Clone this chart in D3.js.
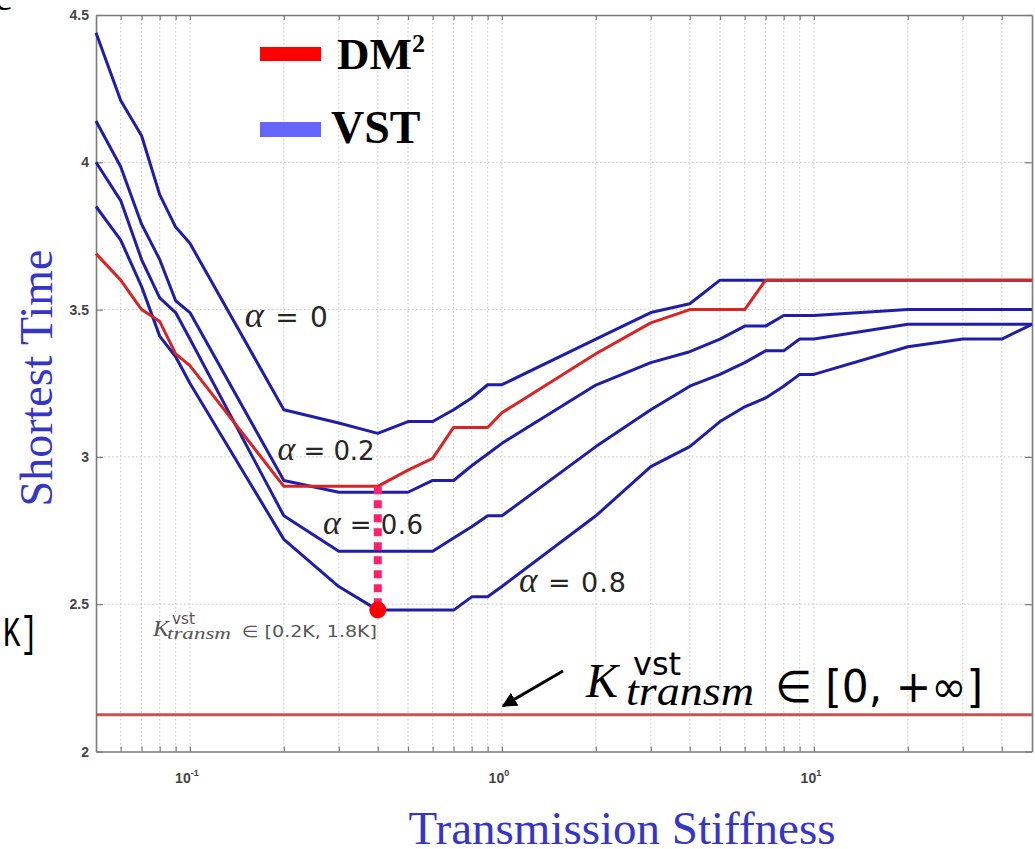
<!DOCTYPE html>
<html>
<head>
<meta charset="utf-8">
<script src="https://cdn.jsdelivr.net/npm/d3@7"></script>
<style>
  html, body { margin: 0; padding: 0; background: #fff; }
  svg { display: block; }
</style>
</head>
<body>
<svg id="chart" width="1035" height="849"></svg>
<script>
// ---------------- data ----------------
const stiffness = [0.05,0.06,0.07,0.08,0.09,0.1,0.2,0.3,0.4,0.5,0.6,0.7,0.8,0.9,1,2,3,4,5,6,7,8,9,10,20,30,40,50];
const vstAlpha0  = [4.44,4.21,4.09,3.89,3.78,3.725,3.16,3.115,3.08,3.12,3.12,3.16,3.20,3.245,3.245,3.40,3.49,3.52,3.60,3.60,3.60,3.60,3.60,3.60,3.60,3.60,3.60,3.60];
const vstAlpha02 = [4.14,3.985,3.79,3.67,3.53,3.49,2.92,2.88,2.88,2.88,2.92,2.92,2.97,3.01,3.046,3.244,3.32,3.357,3.40,3.444,3.444,3.48,3.48,3.48,3.50,3.50,3.50,3.50];
const vstAlpha06 = [4.00,3.87,3.67,3.54,3.49,3.40,2.80,2.68,2.68,2.68,2.68,2.725,2.763,2.80,2.80,3.035,3.16,3.24,3.28,3.32,3.36,3.36,3.40,3.40,3.45,3.45,3.45,3.45];
const vstAlpha08 = [3.85,3.736,3.578,3.41,3.34,3.25,2.72,2.56,2.48,2.48,2.48,2.48,2.525,2.525,2.56,2.80,2.967,3.035,3.12,3.17,3.20,3.24,3.28,3.28,3.374,3.40,3.40,3.45];
const dm2        = [3.69,3.60,3.50,3.46,3.35,3.31,2.90,2.90,2.90,2.955,2.995,3.10,3.10,3.10,3.15,3.35,3.455,3.50,3.50,3.50,3.60,3.60,3.60,3.60,3.60,3.60,3.60,3.60];
const vstAnyK = 2.125;               // horizontal line, K in [0, +inf]
const optimalK = 0.4;                // dotted marker
const optimalTop = 2.90, optimalBottom = 2.48;

const yTicks = [2, 2.5, 3, 3.5, 4, 4.5];
const yTickLabels = ["2", "2.5", "3", "3.5", "4", "4.5"];
const xMajor = [0.1, 1, 10];
const xMajorExp = ["-1", "0", "1"];

const alphaLabels = [
  {name: "0",   k: 0.150, v: 3.44},
  {name: "0.2", k: 0.191, v: 2.99},
  {name: "0.6", k: 0.267, v: 2.738},
  {name: "0.8", k: 1.134, v: 2.542}
];

// ---------------- scales ----------------
const svg = d3.select("#chart");
const x = d3.scaleLog().domain([0.05, 50]).range([96, 1032]);
const y = d3.scaleLinear().domain([2, 4.5]).range([751.5, 15]);
const [x0, x1] = x.range();
const [yb, yt] = y.range();

// ---------------- grid ----------------
const allXTicks = x.ticks().filter(d => d > 0.05 + 1e-9 && d < 50 - 1e-9);
const grid = svg.append("g");
grid.selectAll("line.vx").data(allXTicks).join("line")
  .attr("x1", d => x(d)).attr("x2", d => x(d))
  .attr("y1", yt).attr("y2", yb)
  .attr("stroke", "#c4c4c4").attr("stroke-width", 1)
  .attr("stroke-dasharray", "1.5,2.5");
grid.selectAll("line.hy").data(yTicks.filter(d => d > 2 && d < 4.5)).join("line")
  .attr("x1", x0).attr("x2", x1)
  .attr("y1", d => y(d)).attr("y2", d => y(d))
  .attr("stroke", "#c4c4c4").attr("stroke-width", 1)
  .attr("stroke-dasharray", "1.5,2.5");

// ---------------- axes ----------------
const axisColor = "#7a7a7a";
const gb = svg.append("g").attr("transform", `translate(0,${yb})`)
  .call(d3.axisBottom(x).tickValues(allXTicks).tickSize(-5).tickFormat("").tickSizeOuter(0));
const gt = svg.append("g").attr("transform", `translate(0,${yt})`)
  .call(d3.axisTop(x).tickValues(allXTicks).tickSize(-5).tickFormat("").tickSizeOuter(0));
const gl = svg.append("g").attr("transform", `translate(${x0},0)`)
  .call(d3.axisLeft(y).tickValues(yTicks).tickSize(-7).tickFormat("").tickSizeOuter(0));
const gr = svg.append("g").attr("transform", `translate(${x1},0)`)
  .call(d3.axisRight(y).tickValues(yTicks).tickSize(-7).tickFormat("").tickSizeOuter(0));
[gb, gt, gl, gr].forEach(g => {
  g.selectAll("path").attr("stroke", axisColor).attr("stroke-width", 1.6);
  g.selectAll("line").attr("stroke", axisColor).attr("stroke-width", 1.2);
});

// y tick labels
svg.append("g").selectAll("text").data(yTicks).join("text")
  .attr("x", x0 - 7).attr("y", d => y(d) + 5)
  .attr("text-anchor", "end")
  .attr("font-family", "Liberation Sans, Arial, sans-serif")
  .attr("font-size", 14).attr("font-weight", "bold")
  .attr("fill", "#444")
  .text((d, i) => yTickLabels[i]);

// x tick labels 10^n
const xl = svg.append("g").selectAll("text").data(xMajor).join("text")
  .attr("x", d => x(d) - 3).attr("y", yb + 31)
  .attr("text-anchor", "middle")
  .attr("font-family", "Liberation Sans, Arial, sans-serif")
  .attr("font-size", 14).attr("font-weight", "bold")
  .attr("fill", "#444");
xl.append("tspan").text("10");
xl.append("tspan").attr("dy", -7).attr("font-size", 9).text((d, i) => xMajorExp[i]);

// ---------------- reference line ----------------
svg.append("line")
  .attr("x1", x0).attr("x2", x1)
  .attr("y1", y(vstAnyK)).attr("y2", y(vstAnyK))
  .attr("stroke", "#c85352").attr("stroke-width", 3);

// ---------------- curves ----------------
const line = d3.line().x(d => x(d[0])).y(d => y(d[1]));
const blueSeries = [vstAlpha0, vstAlpha02, vstAlpha06, vstAlpha08];
svg.append("g").selectAll("path").data(blueSeries).join("path")
  .attr("d", s => line(stiffness.map((k, i) => [k, s[i]])))
  .attr("fill", "none").attr("stroke", "#1e1eaa").attr("stroke-width", 3)
  .attr("stroke-linejoin", "round");
svg.append("path")
  .attr("d", line(stiffness.map((k, i) => [k, dm2[i]])))
  .attr("fill", "none").attr("stroke", "#d92424").attr("stroke-width", 3)
  .attr("stroke-linejoin", "round");

// optimal marker
svg.append("line")
  .attr("x1", x(optimalK)).attr("x2", x(optimalK))
  .attr("y1", y(optimalTop)).attr("y2", y(optimalBottom))
  .attr("stroke", "#ff1f6b").attr("stroke-width", 8)
  .attr("stroke-dasharray", "8,6");
svg.append("circle")
  .attr("cx", x(optimalK)).attr("cy", y(optimalBottom))
  .attr("r", 8.5).attr("fill", "#ff0000");

// ---------------- alpha labels ----------------
const alphaSizes = [28, 26, 26, 27];
const alphaWidths = [83, 97, 100, 107];
const al = svg.append("g").selectAll("text").data(alphaLabels).join("text")
  .attr("x", d => x(d.k)).attr("y", d => y(d.v))
  .attr("fill", "#262626")
  .attr("font-size", (d, i) => alphaSizes[i])
  .attr("textLength", (d, i) => alphaWidths[i])
  .attr("lengthAdjust", "spacing");
al.append("tspan").attr("font-family", "Liberation Serif, serif").attr("font-style", "italic")
  .attr("font-size", "1.3em").text("α");
al.append("tspan").attr("font-family", "DejaVu Sans, sans-serif").text(d => " = " + d.name);

// ---------------- small annotation ----------------
const small = svg.append("g").attr("fill", "#555");
small.append("text").attr("x", 153).attr("y", 636)
  .attr("font-family", "Liberation Serif, serif").attr("font-style", "italic").attr("font-size", 24).text("K");
small.append("text").attr("x", 172).attr("y", 624)
  .attr("font-family", "DejaVu Sans, sans-serif").attr("font-size", 16)
  .attr("textLength", 23).attr("lengthAdjust", "spacingAndGlyphs").text("vst");
small.append("text").attr("x", 167).attr("y", 639)
  .attr("font-family", "Liberation Serif, serif").attr("font-style", "italic").attr("font-size", 17)
  .attr("textLength", 64).attr("lengthAdjust", "spacingAndGlyphs").text("transm");
small.append("text").attr("x", 242).attr("y", 637)
  .attr("font-family", "DejaVu Sans, sans-serif").attr("font-size", 16)
  .attr("textLength", 135).attr("lengthAdjust", "spacingAndGlyphs")
  .text("∈ [0.2K, 1.8K]");

// ---------------- big annotation + arrow ----------------
const big = svg.append("g").attr("fill", "#000");
big.append("text").attr("x", 586).attr("y", 697)
  .attr("font-family", "Liberation Serif, serif").attr("font-style", "italic").attr("font-size", 48).text("K");
big.append("text").attr("x", 633).attr("y", 675)
  .attr("font-family", "DejaVu Sans, sans-serif").attr("font-size", 32).text("vst");
big.append("text").attr("x", 626).attr("y", 705)
  .attr("font-family", "Liberation Serif, serif").attr("font-style", "italic").attr("font-size", 42)
  .attr("textLength", 128).attr("lengthAdjust", "spacingAndGlyphs").text("transm");
big.append("text").attr("x", 775).attr("y", 702)
  .attr("font-family", "DejaVu Sans, sans-serif").attr("font-size", 44)
  .attr("textLength", 208).attr("lengthAdjust", "spacingAndGlyphs").text("∈ [0, +∞]");

svg.append("defs").append("marker")
  .attr("id", "arrow").attr("viewBox", "0 0 10 10").attr("refX", 9).attr("refY", 5)
  .attr("markerWidth", 5).attr("markerHeight", 5).attr("orient", "auto")
  .append("path").attr("d", "M0,0 L10,5 L0,10 Z").attr("fill", "#000");
svg.append("line")
  .attr("x1", 563).attr("y1", 671).attr("x2", 503).attr("y2", 706)
  .attr("stroke", "#000").attr("stroke-width", 3).attr("marker-end", "url(#arrow)");

// ---------------- legend ----------------
const legend = svg.append("g");
legend.append("rect").attr("x", 260).attr("y", 47).attr("width", 61).attr("height", 14).attr("fill", "#ff0000");
legend.append("rect").attr("x", 260).attr("y", 122).attr("width", 61).attr("height", 15).attr("fill", "#6666ff");
const lt1 = legend.append("text").attr("x", 337).attr("y", 69)
  .attr("font-family", "Liberation Serif, Times New Roman, serif").attr("font-weight", "bold").attr("font-size", 45);
lt1.append("tspan").text("DM");
lt1.append("tspan").attr("dy", -17).attr("font-size", 26).text("2");
legend.append("text").attr("x", 331).attr("y", 143)
  .attr("font-family", "Liberation Serif, Times New Roman, serif").attr("font-weight", "bold").attr("font-size", 46)
  .text("VST");

// ---------------- axis titles ----------------
svg.append("text")
  .attr("transform", "translate(52,378) rotate(-90)")
  .attr("text-anchor", "middle")
  .attr("font-family", "Liberation Serif, Times New Roman, serif").attr("font-size", 46)
  .attr("fill", "#3535c8")
  .text("Shortest Time");
svg.append("text")
  .attr("x", 622).attr("y", 844)
  .attr("text-anchor", "middle")
  .attr("font-family", "Liberation Serif, Times New Roman, serif").attr("font-size", 47)
  .attr("fill", "#3535c8")
  .text("Transmission Stiffness");

// ---------------- clipped fragments at the left edge ----------------
svg.append("text").attr("x", 38).attr("y", 646).attr("text-anchor", "end")
  .attr("font-family", "Liberation Mono, monospace").attr("font-size", 42)
  .attr("textLength", 35).attr("lengthAdjust", "spacingAndGlyphs")
  .attr("fill", "#000").text("K]");
svg.append("text").attr("x", -6).attr("y", 10)
  .attr("font-family", "Liberation Serif, serif").attr("font-size", 40)
  .attr("fill", "#000").text("c");
</script>
</body>
</html>
